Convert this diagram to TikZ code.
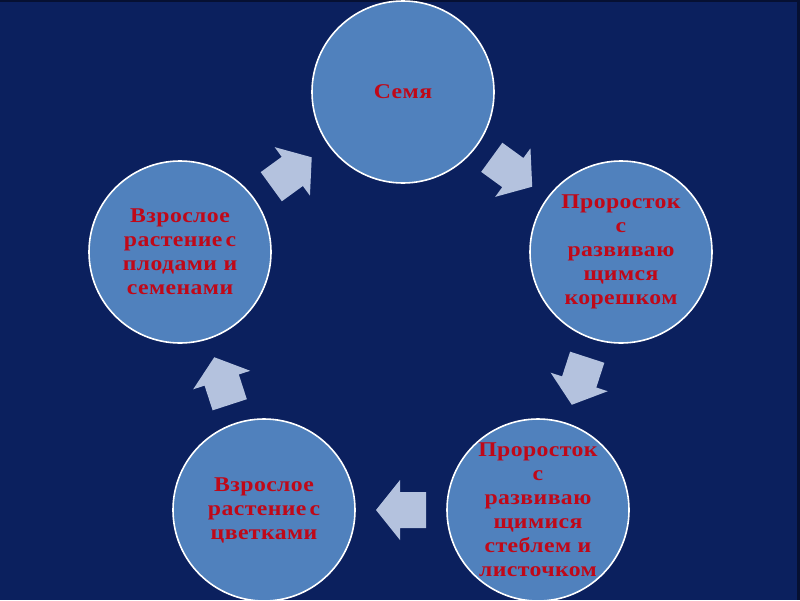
\documentclass[tikz,border=0pt]{standalone}
\usepackage{fontspec}
\setmainfont{Liberation Serif}
\newfontfamily\stagefont[FakeStretch=1.13,LetterSpace=2]{Liberation Serif}
\usetikzlibrary{calc}
\definecolor{bg}{RGB}{11,32,94}
\definecolor{edgedark}{RGB}{6,16,50}
\definecolor{circfill}{RGB}{80,129,189}
\definecolor{arrfill}{RGB}{180,194,222}
\definecolor{txt}{RGB}{192,8,24}
\newcommand{\cyclearrow}[3]{%
  \fill[blockarrow, shift={($(#1)!0.5!(#2)$)}, rotate=#3]
    (-25,-18) -- (1,-18) -- (1,-30) -- (25,0) -- (1,30) -- (1,18) -- (-25,18) -- cycle;}
\begin{document}
\begin{tikzpicture}[x=1pt,y=-1pt,
  stage/.style={circle, draw=white, line width=1.6pt, fill=circfill,
    minimum size=182pt, inner sep=0pt, text=txt, align=center,
    font=\stagefont\bfseries\fontsize{21}{24}\selectfont},
  blockarrow/.style={fill=arrfill}]
\fill[bg] (0,0) rectangle (800,600);
\fill[edgedark] (0,0) rectangle (800,2);
\fill[edgedark] (797,0) rectangle (800,600);
\useasboundingbox (0,0) rectangle (800,600);
\node[stage] (seed) at (403,92) {Семя};
\node[stage] (root) at (621,252) {Проросток\\с\\развиваю\\щимся\\корешком};
\node[stage] (stem) at (538,510) {Проросток\\с\\развиваю\\щимися\\стеблем и\\листочком};
\node[stage] (flower) at (264,510) {Взрослое\\растение\hspace{3pt}с\\цветками};
\node[stage] (fruit) at (180,252) {Взрослое\\растение\hspace{3pt}с\\плодами и\\семенами};
\cyclearrow{seed}{root}{-36}
\cyclearrow{root}{stem}{-108}
\cyclearrow{stem}{flower}{180}
\cyclearrow{flower}{fruit}{108}
\cyclearrow{fruit}{seed}{36}
\end{tikzpicture}
\end{document}
